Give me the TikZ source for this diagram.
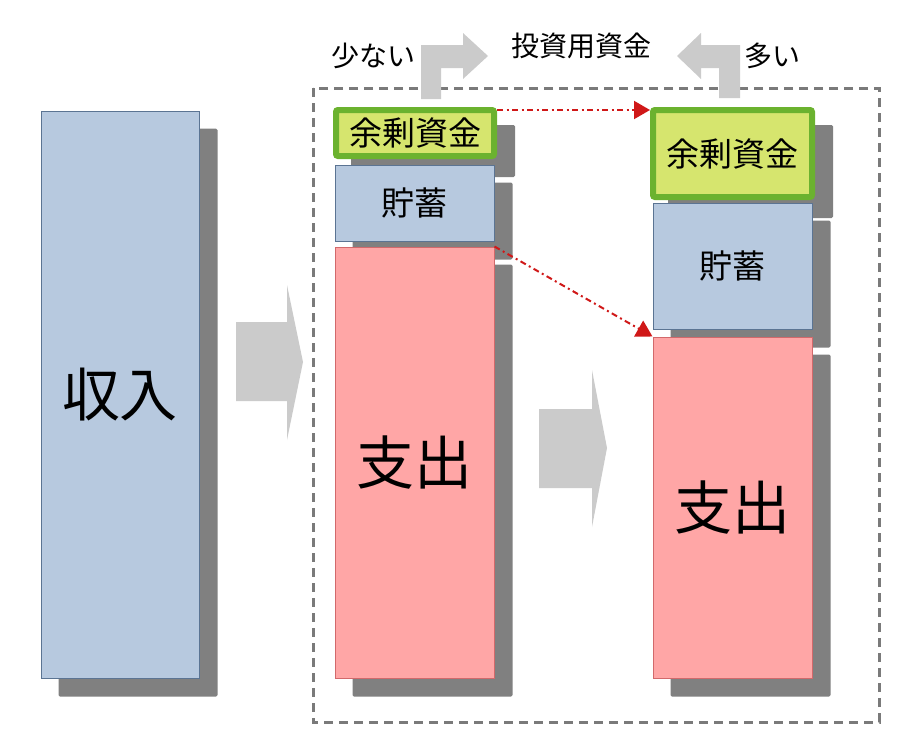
\documentclass[tikz,border=0pt]{standalone}
\usepackage{fontspec}
\setmainfont{Noto Sans CJK JP}
\usetikzlibrary{arrows.meta,backgrounds,calc}
\definecolor{boxblue}{HTML}{B7C9DF}
\definecolor{boxblueb}{HTML}{5B7493}
\definecolor{boxred}{HTML}{FFA6A6}
\definecolor{boxredb}{HTML}{D2696B}
\definecolor{boxgreen}{HTML}{D6E56E}
\definecolor{boxgreenb}{HTML}{6BB22F}
\definecolor{shadowc}{HTML}{808080}
\definecolor{arrowc}{HTML}{CBCBCB}
\definecolor{framec}{HTML}{7A7A7A}
\definecolor{conred}{HTML}{D01818}
\tikzset{
  bluebox/.style={draw=boxblueb, line width=1pt, fill=boxblue, inner sep=0pt},
  redbox/.style={draw=boxredb, line width=1pt, fill=boxred, inner sep=0pt},
  greenbox/.style={draw=boxgreenb, line width=6pt, fill=boxgreen, inner sep=0pt, rounded corners=2pt},
  bigtxt/.style={font=\fontsize{58}{60}\selectfont},
  midtxt/.style={font=\fontsize{33}{36}\selectfont},
  toptxt/.style={font=\fontsize{28}{30}\selectfont, inner sep=0pt},
  con/.style={draw=conred, line width=2pt, dash pattern=on 6pt off 3.5pt on 2pt off 3.5pt, -{Triangle[length=16pt,width=18pt]}},
  bigarrow/.style={fill=arrowc},
  shadowfill/.style={fill=shadowc},
  framestyle/.style={draw=framec, line width=3pt, dash pattern=on 9pt off 6pt},
}
\begin{document}
\begin{tikzpicture}[x=1pt,y=-1pt]
\useasboundingbox (0,0) rectangle (906,747);
% dashed frame
\draw[framestyle] (313,88) rectangle (879,722);
% left column
\node[bluebox, bigtxt, minimum width=158pt, minimum height=567pt] (inc) at (120,394.5) {収入};
% middle column
\node[greenbox, midtxt, minimum width=158pt, minimum height=46pt] (msur) at (415,133) {余剰資金};
\node[bluebox, midtxt, minimum width=159pt, minimum height=76pt] (msav) at (414.5,203) {貯蓄};
\node[redbox, bigtxt, minimum width=159pt, minimum height=431pt] (mexp) at (414.5,462.5) {支出};
% right column
\node[greenbox, midtxt, minimum width=159pt, minimum height=87pt] (rsur) at (732.5,153.5) {余剰資金};
\node[bluebox, midtxt, minimum width=159pt, minimum height=126pt] (rsav) at (732.5,266) {貯蓄};
\node[redbox, bigtxt, minimum width=159pt, minimum height=341pt] (rexp) at (732.5,507.5) {支出};
% shadows
\begin{scope}[on background layer]
\foreach \n in {inc,msur,msav,mexp,rsur,rsav,rexp}
  \fill[shadowfill, rounded corners=1.5pt] ($(\n.north west)+(18,18)$) rectangle ($(\n.south east)+(18,18)$);
\end{scope}
% big grey arrows
\fill[bigarrow] (236,322) -- (287,322) -- (287,285) -- (303,362) -- (287,440) -- (287,401) -- (236,401) -- cycle;
\fill[bigarrow] (539,409) -- (592,409) -- (592,370) -- (607,448) -- (592,527) -- (592,488) -- (539,488) -- cycle;
% bent arrows
\fill[bigarrow] (421,99) -- (421,45) -- (463,45) -- (463,33) -- (488,56) -- (463,79) -- (463,68) -- (441,68) -- (441,99) -- cycle;
\fill[bigarrow] (740,98) -- (740,45) -- (701,45) -- (701,33) -- (677,56) -- (701,79) -- (701,68) -- (719,68) -- (719,98) -- cycle;
% top labels
\node[toptxt] (few) at (373,56) {少ない};
\node[toptxt] (inv) at (581,46) {投資用資金};
\node[toptxt] (many) at (772,56) {多い};
% red connectors
\draw[con] ([yshift=-3pt]msur.north east) -- ([yshift=-3pt]rsur.north west);
\draw[con] (mexp.north east) -- (rexp.north west);
\end{tikzpicture}
\end{document}
